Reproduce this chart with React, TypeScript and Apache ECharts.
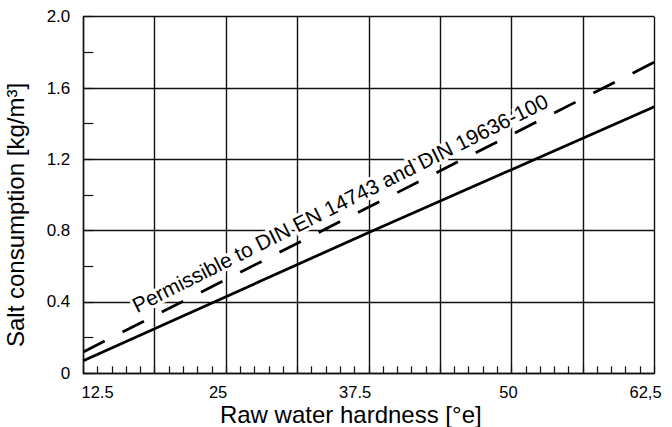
import React, { useEffect, useRef } from "react";
import * as echarts from "echarts";

// Raw water hardness axis (°e) range shown by the plot frame
const hardnessMin = 11.2;
const hardnessMax = 63.3;

// x tick labels and where they sit on the °e scale (as printed in the source)
const xTickLabels = ["12.5", "25", "37.5", "50", "62,5"];
const xTickPositions = [12.5, 23.5, 36, 50, 62.5];

// y tick labels
const yTickValues = [0, 0.4, 0.8, 1.2, 1.6, 2.0];
const yTickLabels = ["0", "0.4", "0.8", "1.2", "1.6", "2.0"];

// Salt consumption lines [°e, kg/m³]
const solidHardness = [11.2, 37.25, 63.3];
const solidSalt = [0.07, 0.79, 1.495];
const dashedHardness = [11.2, 63.3];
const dashedSalt = [0.12, 1.745];

const annotation = "Permissible to DIN EN 14743 and DIN 19636-100";
const xName = "Raw water hardness [°e]";
const yName = "Salt consumption [kg/m³]";

const FONT = '"Liberation Sans", Arial, Helvetica, sans-serif';

export default function App() {
  const ref = useRef<HTMLDivElement>(null);

  useEffect(() => {
    if (!ref.current) return;
    const chart = echarts.init(ref.current, undefined, { renderer: "svg" });
    const lineCol = "#111";
    chart.setOption({
      animation: false,
      backgroundColor: "#fff",
      grid: {
        left: 83.3,
        right: 17.7,
        top: 16.7,
        bottom: 53.7,
        containLabel: false,
        outerBoundsMode: "none",
      },
      xAxis: [
        {
          type: "value",
          position: "bottom",
          min: 0,
          max: 8,
          interval: 1,
          axisLine: { show: true, lineStyle: { color: lineCol, width: 1.4 } },
          axisTick: { show: true, inside: true, length: 7, lineStyle: { color: lineCol, width: 1.2 } },
          minorTick: { show: true, splitNumber: 5, length: 7, lineStyle: { color: lineCol, width: 1.2 } },
          axisLabel: { show: false },
          splitLine: { show: true, lineStyle: { color: lineCol, width: 1.4 } },
        },
        {
          type: "value",
          position: "bottom",
          min: hardnessMin,
          max: hardnessMax,
          axisLine: { show: false },
          axisTick: { show: false },
          splitLine: { show: false },
          name: xName,
          nameLocation: "middle",
          nameGap: 29,
          nameMoveOverlap: false,
          nameTextStyle: { fontFamily: FONT, fontSize: 24, color: "#000", padding: [0, 36, 0, 0] },
          axisLabel: {
            show: true,
            customValues: xTickPositions,
            fontFamily: FONT,
            fontSize: 16.5,
            color: "#000",
            margin: 10,
            formatter: (v: number) => {
              const i = xTickPositions.findIndex((p) => Math.abs(p - v) < 1e-6);
              return i >= 0 ? xTickLabels[i] : "";
            },
          },
        },
      ],
      yAxis: {
        type: "value",
        min: 0,
        max: 2.0,
        interval: 0.4,
        name: yName,
        nameLocation: "middle",
        nameGap: 56,
        nameTextStyle: { fontFamily: FONT, fontSize: 24, color: "#000", padding: [0, 40, 0, 0] },
        axisLine: { show: true, lineStyle: { color: lineCol, width: 1.4 } },
        axisTick: { show: true, inside: true, length: 10, lineStyle: { color: lineCol, width: 1.2 } },
        minorTick: { show: true, splitNumber: 2, length: 10, lineStyle: { color: lineCol, width: 1.2 } },
        splitLine: { show: true, lineStyle: { color: lineCol, width: 1.4 } },
        axisLabel: {
          fontFamily: FONT,
          fontSize: 17,
          color: "#000",
          margin: 13,
          formatter: (v: number) => {
            const i = yTickValues.findIndex((p) => Math.abs(p - v) < 1e-6);
            return i >= 0 ? yTickLabels[i] : "";
          },
        },
      },
      graphic: [
        {
          type: "text",
          x: 340,
          y: 203,
          rotation: (26.6 * Math.PI) / 180,
          z: 100,
          style: {
            text: annotation,
            font: `21px ${FONT}`,
            fill: "#000",
            align: "center",
            verticalAlign: "middle",
            textAlign: "center",
            textVerticalAlign: "middle",
            stroke: "#fff",
            lineWidth: 6,
          },
        },
      ],
      series: [
        {
          type: "line",
          xAxisIndex: 1,
          data: solidHardness.map((x, i) => [x, solidSalt[i]]),
          showSymbol: false,
          symbol: "none",
          lineStyle: { color: "#000", width: 2.8 },
          z: 5,
        },
        {
          type: "line",
          xAxisIndex: 1,
          data: dashedHardness.map((x, i) => [x, dashedSalt[i]]),
          showSymbol: false,
          symbol: "none",
          lineStyle: { color: "#000", width: 2.8, type: [24, 20], cap: "butt" },
          z: 5,
        },
      ],
    });
    return () => chart.dispose();
  }, []);

  return (
    <div
      ref={ref}
      style={{ position: "absolute", left: 0, top: 0, width: 672, height: 427, background: "#fff" }}
    />
  );
}
